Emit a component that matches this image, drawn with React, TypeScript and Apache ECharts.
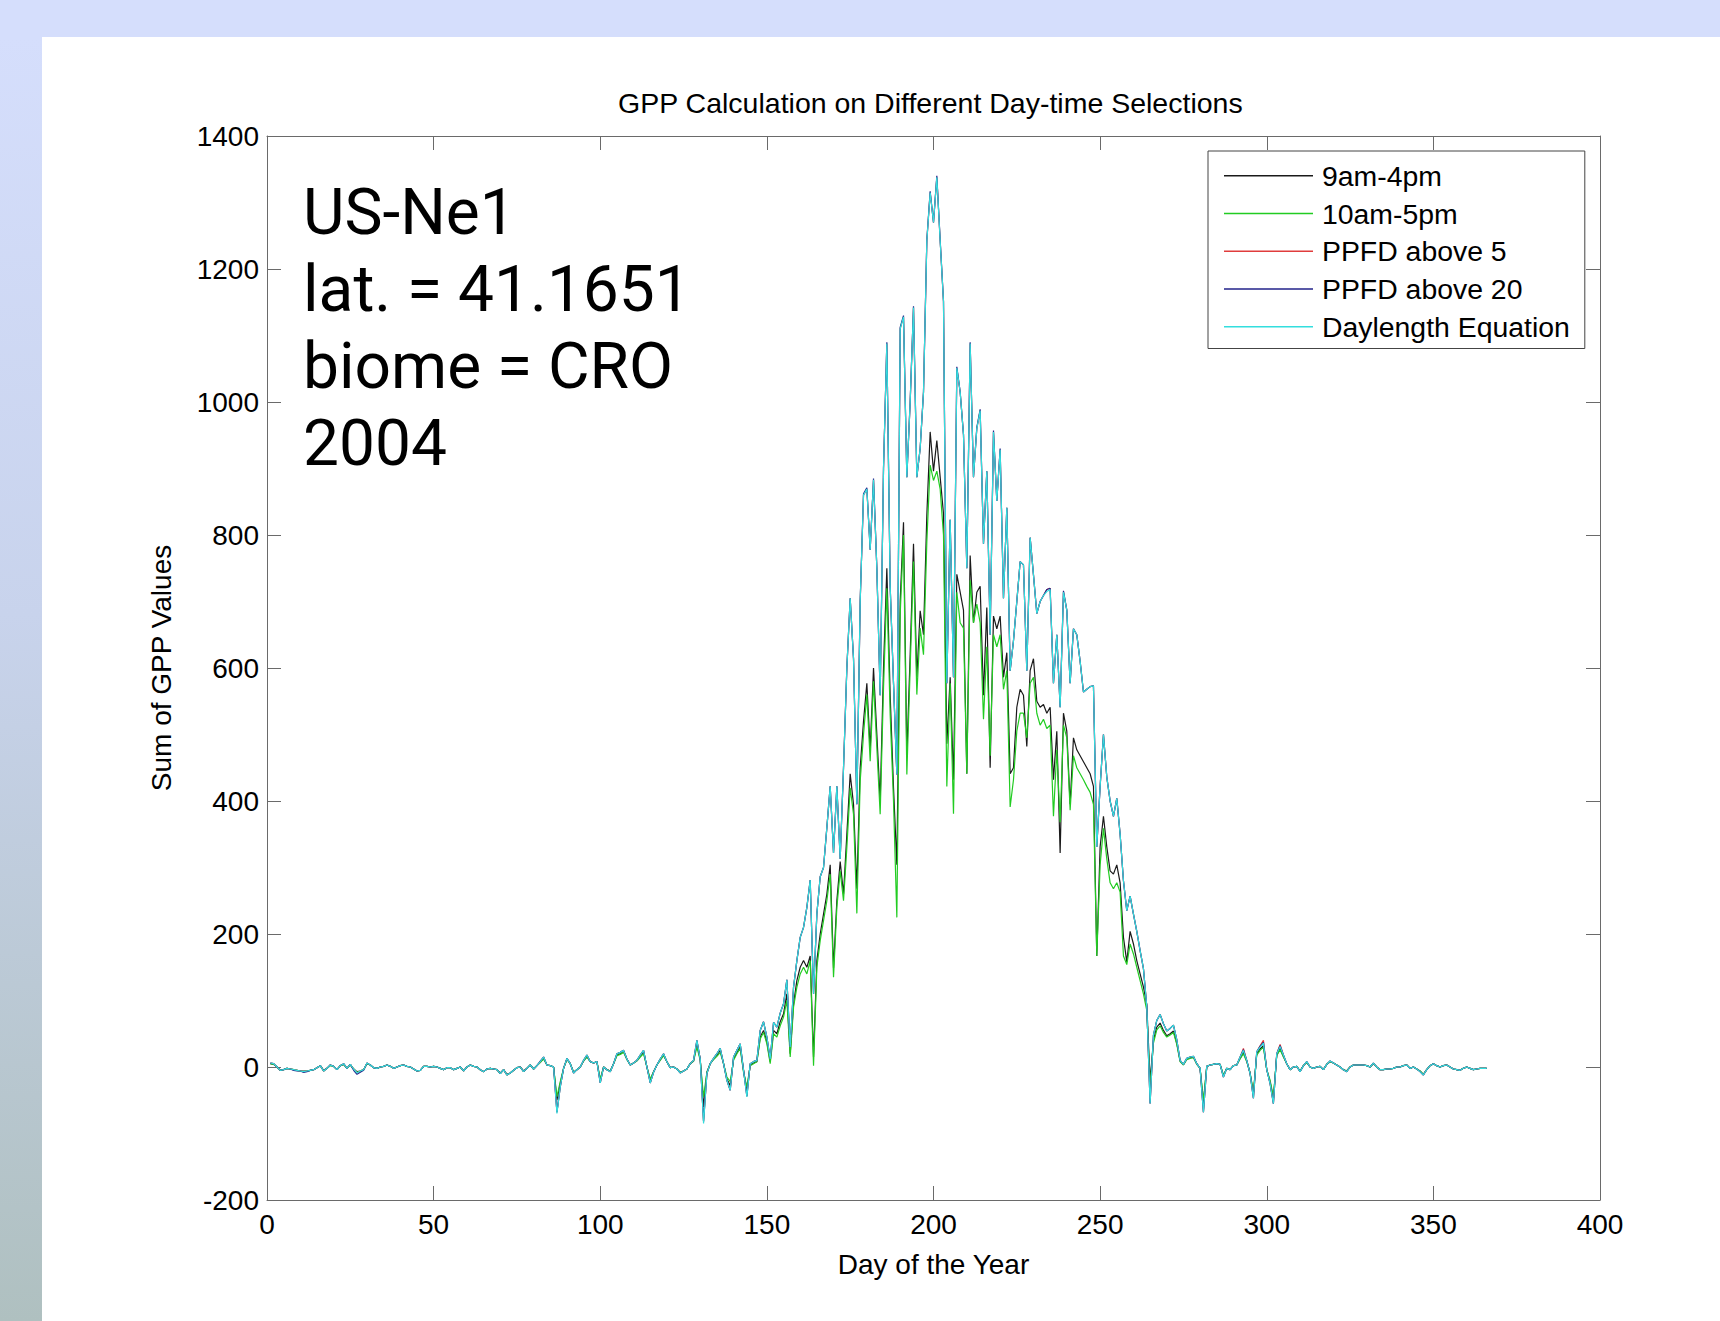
import React, { useEffect, useRef } from "react";
import * as echarts from "echarts";

const TITLE = "GPP Calculation on Different Day-time Selections";
const X_NAME = "Day of the Year";
const Y_NAME = "Sum of GPP Values";
const SERIES_NAMES = ["9am-4pm", "10am-5pm", "PPFD above 5", "PPFD above 20", "Daylength Equation"];
const SERIES_COLORS = ["#1a1a1a", "#22cc22", "#e03c3c", "#22228a", "#33dede"];
const SITE_LINES = ["US-Ne1", "lat. = 41.1651", "biome = CRO", "2004"];
const X_MIN = 0;
const X_MAX = 400;
const X_STEP = 50;
const Y_MIN = -200;
const Y_MAX = 1400;
const Y_STEP = 200;

// daily values, day 1 .. 366
const NINE_FOUR = [
  5, 4, 0, -5, -4, -2, -3, -4, -5, -6,
  -6, -6, -5, -4, -1, 2, -5, -2, 3, 1,
  -4, 2, 4, -2, 4, -3, -7, -6, -4, 5,
  3, -1, -2, 0, 1, 3, 1, -2, 0, 2,
  3, 1, 0, -3, -6, -5, 1, 1, 0, 1,
  0, -2, -4, -1, -1, -4, -2, 0, -6, 0,
  3, 1, 0, -4, -7, -3, -2, -3, -4, -9,
  -4, -11, -9, -5, -1, 0, -6, -2, 3, -3,
  2, 7, 13, 3, 2, 0, -50, -25, -2, 12,
  5, -8, -4, 0, 9, 16, 8, 6, 8, -20,
  0, -4, -6, 5, 18, 20, 24, 12, 3, 6,
  10, 16, 22, 0, -20, -7, 3, 11, 18, 8,
  -1, 0, -3, -8, -6, -3, 5, 9, 35, 12,
  -60, -8, 5, 12, 18, 25, 5, -18, -28, 12,
  22, 30, -5, -35, 3, 6, 8, 45, 55, 38,
  8, 55, 50, 68, 80, 110, 20, 95, 130, 150,
  160, 150, 167, 15, 160, 200, 230, 260, 304, 149,
  250, 309, 260, 350, 441, 395, 268, 450, 520, 577,
  477, 600, 500, 400, 600, 750, 559, 420, 304, 700,
  819, 468, 620, 787, 586, 686, 650, 830, 955, 896,
  942, 887, 832, 486, 586, 432, 741, 714, 687, 441,
  769, 668, 714, 723, 559, 691, 450, 678, 659, 678,
  586, 623, 441, 450, 541, 568, 559, 482, 596, 614,
  550, 541, 545, 532, 541, 432, 505, 322, 532, 505,
  395, 495, 477, 468, 459, 450, 441, 422, 167, 331,
  377, 331, 295, 290, 304, 277, 195, 158, 204, 185,
  160, 140, 120, 94, -21, 40, 60, 66, 55, 47,
  50, 54, 36, 9, 4, 12, 14, 15, 5, -2,
  -55, 1, 3, 4, 5, 4, -13, -2, -4, 2,
  3, 13, 22, 9, -9, -40, 20, 27, 32, -4,
  -22, -48, 18, 28, 16, 5, -4, 0, 1, -6,
  2, 7, 0, -2, 0, 1, -4, 4, 8, 6,
  3, 0, -4, -6, 0, 3, 3, 3, 3, 2,
  0, 5, 0, -4, -4, -3, -3, -2, 0, 0,
  2, 3, -2, 0, -3, -6, -11, -4, 2, 5,
  2, 0, 2, 3, 0, -3, -4, -5, -2, 0,
  -2, -4, -3, -2, -2, -2,
];

const TEN_FIVE = [
  5, 4, 0, -5, -4, -2, -3, -4, -5, -6,
  -7, -6, -5, -4, -1, 2, -6, -2, 2, 1,
  -4, 2, 4, -2, 3, -3, -8, -6, -4, 5,
  3, -1, -2, 0, 1, 3, 1, -2, 0, 2,
  3, 1, 0, -3, -6, -5, 1, 1, 0, 1,
  0, -2, -4, -1, -1, -4, -2, 0, -6, 0,
  3, 1, 0, -4, -7, -3, -2, -3, -4, -10,
  -4, -12, -9, -5, -1, 0, -7, -2, 3, -3,
  2, 7, 12, 3, 2, 0, -45, -22, -2, 11,
  5, -8, -4, 0, 9, 15, 8, 6, 8, -18,
  0, -4, -6, 5, 17, 19, 22, 11, 3, 6,
  9, 15, 20, 0, -18, -7, 3, 10, 17, 8,
  -1, 0, -3, -8, -6, -3, 5, 9, 30, 10,
  -45, -8, 5, 11, 16, 22, 5, -15, -22, 10,
  20, 28, -8, -30, 2, 5, 8, 42, 52, 35,
  5, 50, 45, 62, 75, 100, 15, 90, 120, 140,
  150, 140, 160, 2, 150, 190, 220, 250, 290, 135,
  240, 295, 250, 330, 420, 380, 231, 430, 500, 560,
  460, 580, 480, 380, 570, 720, 530, 400, 225, 680,
  800, 440, 600, 760, 560, 660, 620, 790, 905, 882,
  896, 869, 800, 422, 577, 381, 714, 668, 660, 441,
  732, 668, 696, 668, 523, 632, 468, 650, 632, 650,
  568, 596, 391, 432, 505, 532, 532, 495, 577, 586,
  532, 514, 523, 509, 514, 377, 477, 368, 514, 495,
  386, 468, 450, 441, 432, 422, 413, 395, 167, 304,
  359, 313, 277, 268, 277, 263, 167, 154, 185, 170,
  150, 130, 110, 85, -30, 36, 56, 62, 52, 45,
  48, 52, 34, 8, 3, 11, 13, 14, 4, -2,
  -50, 1, 3, 4, 5, 4, -12, -2, -4, 2,
  3, 12, 20, 8, -9, -38, 18, 25, 30, -4,
  -20, -45, 17, 26, 15, 5, -4, 0, 1, -6,
  2, 7, 0, -2, 0, 1, -4, 4, 8, 6,
  3, 0, -4, -6, 0, 3, 3, 3, 3, 2,
  0, 5, 0, -4, -4, -3, -3, -2, 0, 0,
  2, 3, -2, 0, -3, -6, -11, -4, 2, 5,
  2, 0, 2, 3, 0, -3, -4, -5, -2, 0,
  -2, -4, -3, -2, -2, -2,
];

const PPFD_5 = [
  6, 5, 0, -5, -4, -2, -3, -4, -5, -6,
  -7, -6, -5, -4, -1, 2, -6, -2, 3, 1,
  -4, 2, 5, -2, 4, -3, -9, -6, -4, 6,
  3, -1, -2, 0, 1, 3, 1, -2, 0, 2,
  3, 1, 0, -3, -6, -5, 1, 1, 0, 1,
  0, -2, -4, -1, -1, -4, -2, 0, -6, 0,
  3, 1, 0, -4, -7, -3, -2, -3, -4, -10,
  -4, -12, -9, -5, -1, 0, -7, -2, 3, -3,
  2, 8, 15, 3, 2, 0, -68, -30, -2, 13,
  5, -9, -4, 0, 10, 18, 8, 6, 8, -24,
  0, -4, -7, 5, 20, 22, 25, 12, 3, 6,
  10, 18, 25, 0, -24, -8, 3, 12, 20, 8,
  -1, 0, -3, -9, -6, -3, 5, 10, 40, 12,
  -82, -10, 5, 13, 20, 28, 5, -20, -35, 15,
  25, 35, -5, -44, 5, 8, 10, 55, 68, 45,
  12, 67, 60, 81, 95, 131, 30, 120, 160, 195,
  210, 240, 281, 110, 230, 286, 300, 360, 422, 322,
  422, 313, 450, 600, 705, 614, 395, 700, 860, 869,
  778, 883, 750, 559, 900, 1088, 723, 577, 440, 1110,
  1128, 887, 1000, 1142, 887, 930, 1015, 1242, 1315, 1270,
  1338, 1242, 1151, 577, 823, 586, 1051, 1015, 951, 750,
  1088, 887, 960, 987, 787, 896, 650, 955, 851, 928,
  705, 841, 596, 641, 700, 760, 755, 596, 796, 740,
  682, 700, 709, 718, 720, 577, 650, 541, 714, 687,
  577, 659, 650, 610, 564, 568, 572, 573, 331, 422,
  500, 436, 400, 377, 404, 350, 280, 235, 257, 230,
  204, 175, 148, 91, -55, 48, 70, 79, 65, 54,
  58, 63, 41, 10, 4, 13, 15, 16, 5, -2,
  -68, 1, 3, 4, 5, 4, -15, -2, -4, 2,
  3, 15, 28, 10, -10, -47, 23, 32, 40, -4,
  -25, -55, 20, 34, 18, 5, -4, 0, 1, -7,
  2, 8, 0, -2, 0, 1, -4, 4, 9, 6,
  3, 0, -4, -7, 0, 3, 3, 3, 3, 2,
  0, 6, 0, -4, -4, -3, -3, -2, 0, 0,
  2, 3, -2, 0, -3, -7, -12, -4, 2, 5,
  2, 0, 2, 3, 0, -3, -4, -5, -2, 0,
  -2, -4, -3, -2, -2, -2,
];

const PPFD_20 = [
  6, 5, 0, -5, -4, -2, -3, -5, -6, -6,
  -8, -7, -5, -4, -1, 2, -6, -2, 3, 1,
  -4, 2, 5, -2, 4, -5, -11, -8, -5, 6,
  3, -1, -2, 0, 1, 3, 1, -2, 0, 2,
  3, 1, 0, -3, -6, -5, 1, 1, 0, 1,
  0, -2, -4, -1, -1, -4, -2, 0, -6, 0,
  3, 1, 0, -4, -7, -3, -2, -3, -4, -10,
  -4, -12, -9, -5, -1, 0, -7, -2, 3, -3,
  2, 9, 15, 3, 2, 0, -68, -30, -2, 13,
  5, -9, -4, 0, 10, 18, 8, 6, 8, -24,
  0, -4, -7, 5, 20, 22, 25, 12, 3, 6,
  10, 18, 25, 0, -24, -8, 3, 12, 20, 8,
  -1, 0, -3, -9, -6, -3, 5, 10, 40, 12,
  -82, -10, 5, 13, 20, 28, 5, -20, -35, 15,
  25, 35, -5, -44, 5, 8, 10, 55, 68, 45,
  12, 67, 60, 81, 95, 131, 30, 120, 160, 195,
  210, 240, 281, 110, 230, 286, 300, 360, 422, 322,
  422, 313, 450, 600, 705, 614, 395, 700, 862, 871,
  778, 885, 750, 559, 900, 1090, 723, 577, 440, 1112,
  1130, 887, 1000, 1144, 887, 930, 1015, 1244, 1317, 1270,
  1340, 1244, 1151, 577, 823, 586, 1053, 1015, 951, 750,
  1090, 887, 962, 989, 787, 896, 650, 957, 851, 930,
  705, 841, 596, 641, 700, 760, 755, 596, 796, 740,
  682, 700, 709, 718, 720, 577, 650, 541, 716, 687,
  577, 659, 650, 610, 564, 568, 572, 573, 331, 422,
  500, 436, 400, 377, 404, 350, 280, 235, 257, 230,
  204, 175, 148, 91, -55, 48, 70, 79, 65, 54,
  58, 63, 41, 10, 4, 13, 15, 16, 5, -2,
  -68, 1, 3, 4, 5, 4, -15, -2, -4, 2,
  3, 15, 26, 10, -10, -47, 23, 31, 37, -4,
  -25, -55, 20, 32, 18, 5, -4, 0, 1, -7,
  2, 8, 0, -2, 0, 1, -4, 4, 9, 6,
  3, 0, -4, -7, 0, 3, 3, 3, 3, 2,
  0, 6, 0, -4, -4, -3, -3, -2, 0, 0,
  2, 3, -2, 0, -3, -7, -12, -4, 2, 5,
  2, 0, 2, 3, 0, -3, -4, -5, -2, 0,
  -2, -4, -3, -2, -2, -2,
];

const DAYLENGTH = [
  6, 5, 0, -5, -4, -2, -3, -4, -5, -6,
  -7, -6, -5, -4, -1, 2, -6, -2, 3, 1,
  -4, 2, 5, -2, 4, -3, -9, -6, -4, 6,
  3, -1, -2, 0, 1, 3, 1, -2, 0, 2,
  3, 1, 0, -3, -6, -5, 1, 1, 0, 1,
  0, -2, -4, -1, -1, -4, -2, 0, -6, 0,
  3, 1, 0, -4, -7, -3, -2, -3, -4, -10,
  -4, -12, -9, -5, -1, 0, -7, -2, 3, -3,
  2, 8, 15, 3, 2, 0, -70, -30, -2, 13,
  5, -9, -4, 0, 10, 18, 8, 6, 8, -24,
  0, -4, -7, 5, 20, 22, 25, 12, 3, 6,
  10, 18, 25, 0, -24, -8, 3, 12, 20, 8,
  -1, 0, -3, -9, -6, -3, 5, 10, 40, 12,
  -85, -10, 5, 13, 20, 28, 5, -20, -35, 15,
  25, 35, -5, -45, 5, 8, 10, 55, 68, 45,
  12, 67, 60, 81, 95, 131, 30, 120, 160, 195,
  210, 240, 281, 110, 230, 286, 300, 360, 422, 322,
  422, 313, 450, 600, 705, 614, 395, 700, 860, 869,
  778, 883, 750, 559, 900, 1088, 723, 577, 440, 1110,
  1128, 887, 1000, 1142, 887, 930, 1015, 1242, 1315, 1270,
  1338, 1242, 1151, 577, 823, 586, 1051, 1015, 951, 750,
  1088, 887, 960, 987, 787, 896, 650, 955, 851, 928,
  705, 841, 596, 641, 700, 760, 755, 596, 796, 740,
  682, 700, 709, 715, 718, 577, 650, 541, 714, 687,
  577, 659, 650, 610, 564, 568, 572, 573, 331, 422,
  500, 436, 400, 377, 404, 350, 280, 235, 257, 230,
  204, 175, 148, 91, -55, 48, 70, 79, 65, 54,
  58, 63, 41, 10, 4, 13, 15, 16, 5, -2,
  -68, 1, 3, 4, 5, 4, -15, -2, -4, 2,
  3, 15, 25, 10, -10, -47, 23, 30, 36, -4,
  -25, -55, 20, 31, 18, 5, -4, 0, 1, -7,
  2, 8, 0, -2, 0, 1, -4, 4, 9, 6,
  3, 0, -4, -7, 0, 3, 3, 3, 3, 2,
  0, 6, 0, -4, -4, -3, -3, -2, 0, 0,
  2, 3, -2, 0, -3, -7, -12, -4, 2, 5,
  2, 0, 2, 3, 0, -3, -4, -5, -2, 0,
  -2, -4, -3, -2, -2, -2,
];

const SERIES_VALUES = [NINE_FOUR, TEN_FIVE, PPFD_5, PPFD_20, DAYLENGTH];

const AXIS_COLOR = "#6a6a6a";
const SANS = "'Liberation Sans', Arial, Helvetica, sans-serif";

export default function App() {
  const ref = useRef<HTMLDivElement>(null);

  useEffect(() => {
    if (!ref.current) return;
    const chart = echarts.init(ref.current, undefined, { renderer: "svg" });

    const labelStyle = { fontFamily: SANS, fontSize: 28, color: "#000" };
    const plain = (v: number) => String(v);

    const baseX = {
      type: "value" as const,
      min: X_MIN,
      max: X_MAX,
      interval: X_STEP,
      splitLine: { show: false },
      axisLine: { show: true, onZero: false, lineStyle: { color: AXIS_COLOR, width: 1 } },
      axisTick: { show: true, inside: true, length: 14, lineStyle: { color: AXIS_COLOR, width: 1 } },
    };
    const baseY = {
      type: "value" as const,
      min: Y_MIN,
      max: Y_MAX,
      interval: Y_STEP,
      splitLine: { show: false },
      axisLine: { show: true, onZero: false, lineStyle: { color: AXIS_COLOR, width: 1 } },
      axisTick: { show: true, inside: true, length: 14, lineStyle: { color: AXIS_COLOR, width: 1 } },
    };

    const siteText = SITE_LINES.map((t, i) => ({
      type: "text",
      x: 303,
      y: 212 + i * 77,
      z: 10,
      style: {
        text: t,
        fontFamily: "Roboto, 'Liberation Sans', sans-serif",
        fontSize: 64,
        lineHeight: 70,
        fill: "#000",
        align: "left",
        verticalAlign: "middle",
      },
    }));

    chart.setOption({
      animation: false,
      backgroundColor: "#ffffff",
      title: {
        text: TITLE,
        left: 618,
        top: 88,
        padding: 0,
        textStyle: { fontFamily: SANS, fontSize: 28.5, fontWeight: "normal", color: "#000" },
      },
      legend: {
        data: SERIES_NAMES,
        orient: "vertical",
        left: 1208,
        top: 151,
        padding: [6, 15, 3, 16],
        itemWidth: 89,
        itemHeight: 1.5,
        itemGap: 0,
        icon: "rect",
        borderColor: "#444",
        borderWidth: 1,
        borderRadius: 0,
        backgroundColor: "#fff",
        selectedMode: false,
        textStyle: { fontFamily: SANS, fontSize: 28.4, color: "#000", lineHeight: 37.7, padding: [0, 0, 0, 4] },
      },
      grid: { left: 267, top: 136, width: 1333, height: 1064, containLabel: false },
      xAxis: [
        {
          ...baseX,
          position: "bottom",
          axisLabel: { ...labelStyle, margin: 10, formatter: plain },
          name: X_NAME,
          nameLocation: "middle",
          nameGap: 50,
          nameTextStyle: labelStyle,
        },
        { ...baseX, position: "top", axisLabel: { show: false } },
      ],
      yAxis: [
        {
          ...baseY,
          position: "left",
          axisLabel: { ...labelStyle, margin: 8, formatter: plain },
          name: Y_NAME,
          nameLocation: "middle",
          nameGap: 92,
          nameRotate: 90,
          nameTextStyle: labelStyle,
        },
        { ...baseY, position: "right", axisLabel: { show: false } },
      ],
      graphic: [
        { type: "rect", shape: { x: 0, y: 0, width: 1720, height: 37 }, style: { fill: "#d5defc" }, z: -1, silent: true },
        {
          type: "rect",
          shape: { x: 0, y: 37, width: 42, height: 1284 },
          style: {
            fill: new echarts.graphic.LinearGradient(0, 0, 0, 1, [
              { offset: 0, color: "#d5defc" },
              { offset: 0.45, color: "#c8d3ec" },
              { offset: 1, color: "#afc0c0" },
            ]),
          },
          z: -1,
          silent: true,
        },
        ...siteText,
      ],
      series: SERIES_NAMES.map((name, k) => ({
        name,
        type: "line",
        xAxisIndex: 0,
        yAxisIndex: 0,
        data: SERIES_VALUES[k].map((v, i) => [i + 1, v]),
        showSymbol: false,
        symbol: "none",
        silent: true,
        color: SERIES_COLORS[k],
        lineStyle: { color: SERIES_COLORS[k], width: 1.2 },
        z: 2 + k,
      })),
    });

    return () => chart.dispose();
  }, []);

  return (
    <div
      ref={ref}
      style={{ position: "absolute", left: 0, top: 0, width: 1720, height: 1321, background: "#fff" }}
    />
  );
}
